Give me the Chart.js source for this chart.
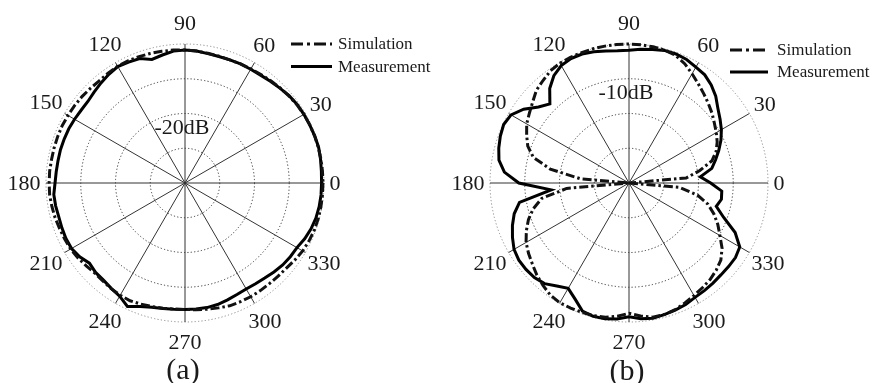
<!DOCTYPE html>
<html>
<head>
<meta charset="utf-8">
<title>Radiation patterns</title>
<script src="https://cdn.jsdelivr.net/npm/chart.js@4.4.1/dist/chart.umd.min.js"></script>
<style>
  html, body { margin: 0; padding: 0; background: #ffffff; }
  #wrap { position: relative; width: 874px; height: 383px; overflow: hidden; background: #ffffff; }
  canvas { position: absolute; top: 0; }
  #chartA { left: 0; }
  #chartB { left: 437px; }
</style>
</head>
<body>
<div id="wrap">
  <canvas id="chartA" width="437" height="383"></canvas>
  <canvas id="chartB" width="437" height="383"></canvas>
</div>
<script>
// Polar angle of every sample, degrees (counter-clockwise from 0 at the right)
const angleDeg = [
  0, 5, 10, 15, 20, 25, 30, 35, 40, 45, 50, 55,
  60, 65, 70, 75, 80, 85, 90, 95, 100, 105, 110, 115,
  120, 125, 130, 135, 140, 145, 150, 155, 160, 165, 170, 175,
  180, 185, 190, 195, 200, 205, 210, 215, 220, 225, 230, 235,
  240, 245, 250, 255, 260, 265, 270, 275, 280, 285, 290, 295,
  300, 305, 310, 315, 320, 325, 330, 335, 340, 345, 350, 355
];

// Angular tick labels
const angleTicks = [0, 30, 60, 90, 120, 150, 180, 210, 240, 270, 300, 330];

// Radial axis, dB (outer ring = 0 dB)
const dbMin = -40;
const dbMax = 0;
const dbStep = 10;

// Pattern (a), normalised gain in dB
const simA = [
  -0.3, -0.3, -0.3, -0.3, -0.3, -0.4, -0.5, -0.7, -1.0, -1.3, -1.6, -1.9,
  -2.1, -2.2, -2.3, -2.2, -2.1, -1.9, -1.7, -1.6, -1.5, -1.4, -1.3, -1.2,
  -1.2, -1.4, -1.6, -1.5, -1.3, -1.2, -1.1, -1.0, -1.0, -1.0, -1.0, -0.9,
  -0.9, -0.9, -1.1, -1.3, -1.6, -1.8, -2.0, -2.4, -2.9, -3.3, -3.2, -2.9,
  -2.7, -2.6, -2.9, -3.2, -3.4, -3.6, -3.6, -3.4, -3.1, -2.8, -2.4, -2.3,
  -2.2, -2.2, -2.2, -2.1, -1.9, -1.4, -0.9, -0.6, -0.4, -0.3, -0.3, -0.3
];
const measA = [
  -0.7, -0.6, -0.4, -0.2, -0.3, -0.4, -0.5, -0.6, -0.9, -1.4, -1.8, -2.1,
  -2.2, -2.2, -2.3, -2.3, -2.2, -1.9, -1.7, -1.9, -2.6, -3.2, -1.9, -1.6,
  -1.3, -1.8, -2.4, -3.0, -3.5, -3.5, -3.3, -3.1, -3.0, -2.9, -2.9, -2.8,
  -2.6, -2.1, -2.2, -2.4, -2.3, -2.2, -2.3, -3.0, -4.1, -3.6, -3.5, -3.0,
  -2.4, -0.8, -2.2, -3.0, -3.3, -3.5, -3.6, -3.6, -3.6, -3.8, -4.2, -4.6,
  -4.8, -4.6, -4.3, -3.8, -3.3, -3.0, -2.8, -2.0, -1.4, -1.0, -0.8, -0.7
];

// Pattern (b), normalised gain in dB
const simB = [
  -40.0, -23.5, -19.3, -15.3, -13.3, -12.0, -11.0, -10.0, -8.8, -7.7, -6.5, -5.2,
  -3.7, -2.1, -0.9, -0.4, -0.2, -0.1, 0.0, 0.0, 0.0, 0.0, -0.1, -0.1,
  -0.2, -0.6, -1.5, -2.3, -3.8, -5.0, -6.0, -7.5, -9.0, -11.5, -17.0, -26.0,
  -40.0, -22.0, -14.5, -11.5, -9.2, -7.4, -5.8, -4.7, -3.7, -2.5, -1.5, -0.6,
  -0.2, -0.3, -0.4, -0.5, -0.8, -1.5, -2.5, -1.6, -0.8, -0.8, -1.2, -1.9,
  -2.6, -3.2, -3.7, -4.5, -5.5, -7.3, -9.8, -11.8, -14.0, -16.5, -20.0, -25.5
];
const measB = [
  -16.5, -19.4, -15.8, -14.2, -12.5, -10.8, -9.3, -8.0, -6.6, -4.7, -3.2, -2.0,
  -1.5, -0.8, -0.5, -0.5, -1.0, -1.4, -1.8, -1.8, -1.4, -0.9, -0.5, -0.5,
  -1.0, -2.3, -4.5, -7.8, -6.0, -3.0, -0.8, -0.2, -0.6, -1.2, -2.0, -4.0,
  -8.3, -17.5, -8.0, -5.8, -4.3, -3.0, -1.8, -1.3, -1.3, -1.5, -2.2, -3.8,
  -5.0, -3.2, -0.8, -0.3, -0.3, -0.7, -1.5, -0.8, -0.5, -0.8, -1.1, -1.4,
  -2.0, -2.2, -2.4, -2.6, -2.6, -2.6, -3.2, -6.3, -11.0, -14.0, -13.0, -13.2
];

const seriesNames = ['Simulation', 'Measurement'];

// The radar scale runs its spokes clockwise; with startAngle 90 spoke i sits at -5*i degrees.
const order = angleDeg.map((_, i) => (angleDeg.length - i) % angleDeg.length);
const spokeLabels = order.map(k => angleDeg[k]);
const pick = arr => order.map(k => arr[k]);
const spokeOf = a => spokeLabels.indexOf(a);

const SERIF = '"Liberation Serif", "Times New Roman", serif';
const INK = '#111111';
const SIM_DASH = [9, 3, 2.5, 3];

function decorPlugin(deco) {
  return {
    id: 'polarDecor',
    afterDraw(chart) {
      const ctx = chart.ctx;
      const s = chart.scales.r;
      ctx.save();

      // angle labels around the outer ring
      ctx.fillStyle = '#1a1a1a';
      ctx.font = '22px ' + SERIF;
      ctx.textAlign = 'center';
      ctx.textBaseline = 'middle';
      angleTicks.forEach(a => {
        const label = String(a);
        const w = ctx.measureText(label).width;
        const rad = a * Math.PI / 180;
        const extra = Math.hypot(Math.cos(rad) * w / 2, Math.sin(rad) * 15);
        const p = s.getPointPosition(spokeOf(a), s.drawingArea + 5.5 + extra);
        ctx.fillText(label, p.x, p.y + 1);
      });

      // level label just inside its ring
      const ringR = s.getDistanceFromCenterForValue(deco.dbValue);
      ctx.fillText(deco.dbText, s.xCenter - 3, s.yCenter - ringR + 14.5);

      // legend
      ctx.font = '17px ' + SERIF;
      ctx.textAlign = 'left';
      chart.data.datasets.forEach((ds, i) => {
        const y = deco.legendY[i];
        ctx.save();
        ctx.strokeStyle = ds.borderColor;
        ctx.lineWidth = 3.2;
        ctx.setLineDash(ds.borderDash ? [12, 4, 3, 4] : []);
        ctx.beginPath();
        ctx.moveTo(deco.legendX0, y);
        ctx.lineTo(deco.legendX1, y);
        ctx.stroke();
        ctx.restore();
        ctx.fillText(ds.label, deco.legendText, y + 1);
      });

      // panel caption
      ctx.font = '30px ' + SERIF;
      ctx.textAlign = 'center';
      ctx.fillText(deco.caption, s.xCenter - 2, deco.captionY);
      ctx.restore();
    }
  };
}

function makeChart(id, sim, meas, pad, deco) {
  return new Chart(document.getElementById(id), {
    type: 'radar',
    data: {
      labels: spokeLabels,
      datasets: [
        {
          label: seriesNames[0], data: pick(sim),
          borderColor: INK, backgroundColor: 'transparent',
          borderWidth: 3, borderDash: SIM_DASH, fill: false,
          pointRadius: 0, tension: 0
        },
        {
          label: seriesNames[1], data: pick(meas),
          borderColor: '#000000', backgroundColor: 'transparent',
          borderWidth: 3, fill: false,
          pointRadius: 0, tension: 0
        }
      ]
    },
    options: {
      responsive: false,
      animation: false,
      layout: { padding: pad },
      plugins: { legend: { display: false }, tooltip: { enabled: false } },
      scales: {
        r: {
          min: dbMin,
          max: dbMax,
          startAngle: 90,
          ticks: { display: false, stepSize: dbStep },
          pointLabels: { display: false },
          grid: {
            circular: true,
            lineWidth: 1,
            color: c => (c.tick && c.tick.value === dbMax ? '#8a8a8a' : '#333333')
          },
          border: { dash: [1.2, 2.2] },
          angleLines: {
            color: '#333333',
            lineWidth: c => (spokeLabels[c.index] % 30 === 0 ? 1 : 0)
          }
        }
      }
    },
    plugins: [decorPlugin(deco)]
  });
}

makeChart('chartA', simA, measA,
  { left: 46, top: 44, right: 113, bottom: 61 },
  { dbValue: -20, dbText: '-20dB', legendY: [44, 66.5], legendX0: 291, legendX1: 332,
    legendText: 338, caption: '(a)', captionY: 371 });

makeChart('chartB', simB, measB,
  { left: 53, top: 44, right: 106, bottom: 61 },
  { dbValue: -10, dbText: '-10dB', legendY: [50, 72], legendX0: 293, legendX1: 331,
    legendText: 340, caption: '(b)', captionY: 372 });
</script>
</body>
</html>
